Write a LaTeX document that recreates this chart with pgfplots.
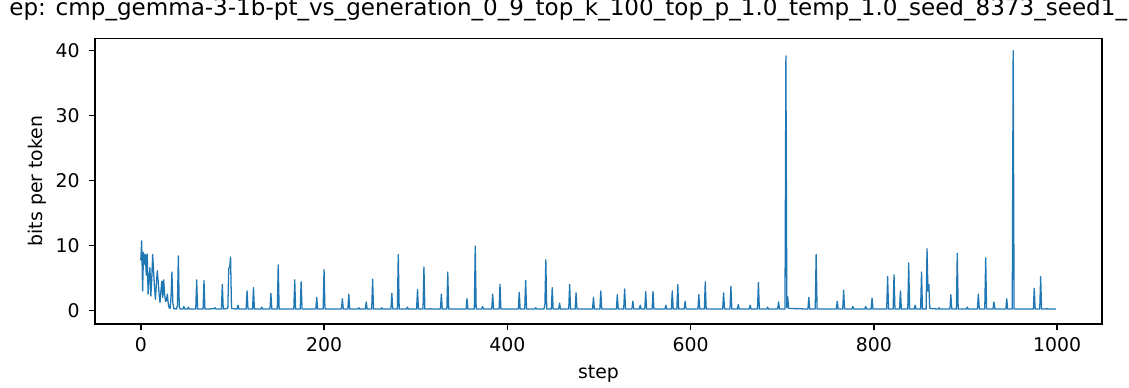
\documentclass[border=0pt]{standalone}
\usepackage{fontspec}
\setmainfont{DejaVu Sans}
\usepackage{pgfplots}
\pgfplotsset{compat=1.18}
\definecolor{mplblue}{HTML}{1F77B4}
\newlength\px
\setlength\px{0.5464pt}
\begin{document}
\begin{tikzpicture}
\begin{axis}[
  scale only axis,
  width=1007\px, height=285.7\px,
  xmin=-49.95, xmax=1048.95,
  ymin=-2.1, ymax=41.9,
  xtick={0,200,...,1000},
  ytick={0,10,...,40},
  tick align=outside,
  xtick pos=left, ytick pos=left,
  major tick length=3.5pt,
  every tick/.style={black, line width=0.8pt},
  axis line style={black, line width=0.8pt},
  /pgf/number format/assume math mode=true,
  /pgf/number format/1000 sep={},
  tick label style={font=\fontsize{10.3pt}{12pt}\selectfont, inner sep=0pt},
  xticklabel shift=3.8pt,
  yticklabel shift=4.7pt,
  xlabel={step},
  ylabel={bits per token},
  label style={font=\fontsize{10.3pt}{12pt}\selectfont},
  xlabel style={at={(axis description cs:0.5,-0.175)}, anchor=center, inner sep=0pt},
  ylabel style={at={(axis description cs:-0.0576,0.5)}, anchor=center, inner sep=0pt},
  title={ep: cmp\_gemma-3-1b-pt\_vs\_generation\_0\_9\_top\_k\_100\_top\_p\_1.0\_temp\_1.0\_seed\_8373\_seed1\_},
  title style={at={(axis description cs:-0.0854,1.043)}, anchor=base west, inner sep=0pt, font=\fontsize{12.6pt}{15pt}\selectfont},
]
\addplot[mplblue, line width=0.7pt, line join=round] coordinates {
(0,7.7)(1,10.7)(2,3.0)(3,8.9)(4,7.1)(5,8.6)(6,5.4)(7,8.7)(8,2.5)(9,5.0)
(10,6.6)(11,2.2)(12,4.9)(13,8.6)(14,5.9)(15,3.5)(16,1.7)(17,4.0)(18,6.1)(19,4.5)
(20,2.5)(21,1.2)(22,3.0)(23,4.5)(24,2.0)(25,4.7)(26,2.5)(27,1.4)(28,1.5)(29,2.5)
(30,1.0)(31,0.4)(32,0.3)(33,2.0)(34,5.9)(35,1.2)(36,0.3)(37,0.2)(38,0.3)(39,0.2)
(40,0.8)(41,8.4)(42,0.5)(43,0.2)
(46,0.2)(47,0.6)(48,0.2)
(51,0.2)(52,0.5)(53,0.2)
(60,0.2)(61,4.7)(62,0.2)
(68,0.2)(69,4.6)(70,0.2)
(80,0.25)(81,0.4)(82,0.2)
(88,0.2)(89,4.0)(90,0.2)
(95,0.3)(96,6.5)(97,6.6)(98,8.2)(99,0.3)
(105,0.2)(106,0.8)(107,0.2)
(115,0.2)(116,3.0)(117,0.2)
(122,0.2)(123,3.5)(124,0.2)
(131,0.2)(132,0.5)(133,0.2)
(141,0.2)(142,2.6)(143,0.2)
(149,0.2)(150,7.0)(151,0.2)
(167,0.2)(168,4.7)(169,0.2)
(174,0.2)(175,4.4)(176,0.2)
(191,0.2)(192,2.0)(193,0.2)
(199,0.2)(200,6.3)(201,0.2)
(219,0.2)(220,1.8)(221,0.2)
(226,0.2)(227,2.5)(228,0.2)
(237,0.2)(238,0.4)(239,0.2)
(245,0.2)(246,1.3)(247,0.2)
(252,0.2)(253,4.8)(254,0.2)
(262,0.2)(263,0.4)(264,0.2)
(273,0.2)(274,2.6)(275,0.2)
(280,0.2)(281,8.6)(282,0.2)
(290,0.2)(291,0.5)(292,0.2)
(301,0.2)(302,3.2)(303,0.2)
(308,0.2)(309,6.7)(310,0.2)
(315,0.2)(316,0.3)(317,0.2)
(327,0.2)(328,2.5)(329,0.2)
(334,0.2)(335,5.9)(336,0.2)
(355,0.2)(356,1.8)(357,0.2)
(364,0.2)(365,9.9)(366,0.2)
(372,0.2)(373,0.6)(374,0.2)
(383,0.2)(384,2.5)(385,0.2)
(391,0.2)(392,4.0)(393,0.2)
(412,0.2)(413,2.8)(414,0.2)
(419,0.2)(420,4.6)(421,0.2)
(430,0.2)(431,0.4)(432,0.2)
(440,0.2)(441,0.9)(442,7.8)(443,0.2)
(448,0.2)(449,3.5)(450,0.2)
(456,0.2)(457,1.1)(458,0.2)
(467,0.2)(468,4.0)(469,0.2)
(474,0.2)(475,2.7)(476,0.2)
(493,0.2)(494,2.0)(495,0.2)
(501,0.2)(502,3.0)(503,0.2)
(519,0.2)(520,2.4)(521,0.2)
(527,0.2)(528,3.3)(529,0.2)
(536,0.2)(537,1.4)(538,0.2)
(544,0.2)(545,0.8)(546,0.2)
(550,0.2)(551,2.9)(552,0.2)
(558,0.2)(559,2.9)(560,0.2)
(572,0.2)(573,0.8)(574,0.2)
(579,0.2)(580,3.0)(581,0.2)
(585,0.2)(586,4.0)(587,0.2)
(593,0.2)(594,1.4)(595,0.2)
(608,0.2)(609,2.4)(610,0.2)
(615,0.2)(616,4.4)(617,0.2)
(635,0.2)(636,2.7)(637,0.2)
(643,0.2)(644,3.7)(645,0.2)
(651,0.2)(652,0.9)(653,0.2)
(664,0.2)(665,0.8)(666,0.2)
(673,0.2)(674,4.3)(675,0.2)
(683,0.2)(684,0.5)(685,0.2)
(695,0.2)(696,1.3)(697,0.2)
(703,0.2)(704,39.2)(705,0.4)(706,2.1)(707,0.3)
(728,0.2)(729,2.0)(730,0.2)
(736,0.2)(737,8.6)(738,0.2)
(759,0.2)(760,1.4)(761,0.2)
(766,0.2)(767,3.1)(768,0.2)
(776,0.2)(777,0.6)(778,0.2)
(790,0.2)(791,0.6)(792,0.2)
(797,0.2)(798,1.9)(799,0.2)
(814,0.2)(815,5.2)(816,0.2)
(821,0.2)(822,5.5)(823,0.2)
(828,0.2)(829,3.0)(830,0.2)
(837,0.2)(838,7.3)(839,0.2)
(844,0.2)(845,0.8)(846,0.2)
(851,0.2)(852,5.9)(853,0.2)
(857,0.2)(858,9.5)(859,3.0)(860,4.0)(861,0.3)
(870,0.2)(871,0.4)(872,0.2)
(883,0.2)(884,2.4)(885,0.2)
(890,0.2)(891,8.8)(892,0.2)
(901,0.2)(902,0.5)(903,0.2)
(913,0.2)(914,2.5)(915,0.2)
(921,0.2)(922,8.1)(923,0.2)
(930,0.2)(931,1.3)(932,0.2)
(944,0.2)(945,1.8)(946,0.2)
(951,0.2)(952,40.0)(953,0.2)
(974,0.2)(975,3.4)(976,0.2)
(981,0.2)(982,5.2)(983,0.2)
(988,0.2)(989,0.3)(990,0.2)
(999,0.2)
};
\coordinate (sw) at (rel axis cs:0,0);
\coordinate (ne) at (rel axis cs:1,1);
\end{axis}
\pgfresetboundingbox
\path[use as bounding box] ([shift={(-95\px,-64\px)}]sw) rectangle ([shift={(27\px,38.3\px)}]ne);
\end{tikzpicture}
\end{document}
